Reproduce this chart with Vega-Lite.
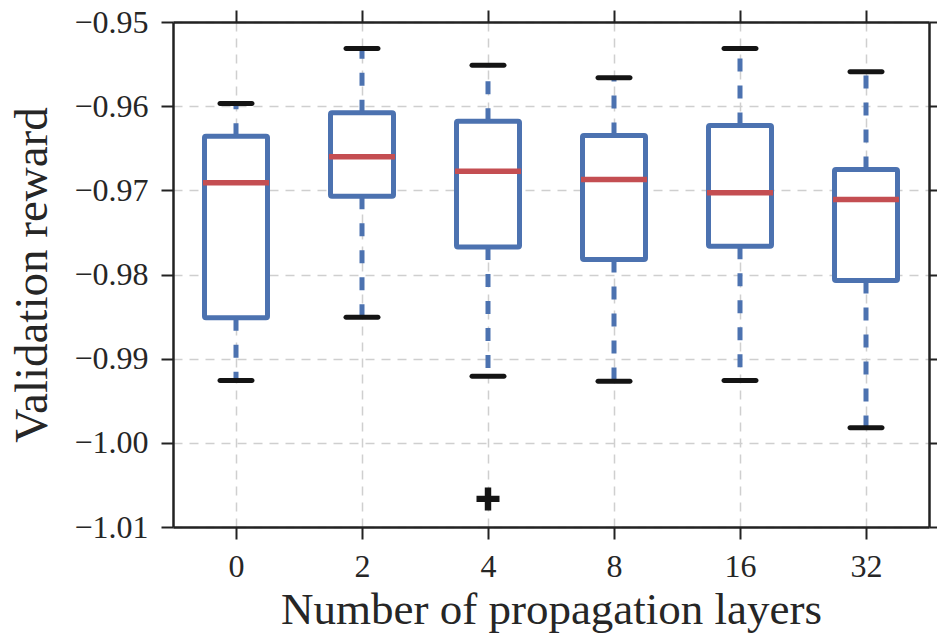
{
  "$schema": "https://vega.github.io/schema/vega-lite/v6.json",
  "autosize": {"type": "none"},
  "width": 756,
  "height": 505,
  "padding": {"left": 173, "top": 22, "right": 8, "bottom": 106},
  "background": "white",
  "config": {
    "view": {"stroke": null},
    "axis": {
      "labelFont": "Liberation Serif",
      "titleFont": "Liberation Serif",
      "labelFontSize": 32,
      "titleFontSize": 45,
      "titleFontWeight": "normal",
      "labelColor": "#262626",
      "titleColor": "#262626",
      "domainColor": "#222222",
      "domainWidth": 2.5,
      "tickColor": "#222222",
      "tickWidth": 2,
      "tickSize": 12,
      "gridColor": "#cfcfcf",
      "gridDash": [9, 7],
      "gridWidth": 1.5
    }
  },
  "datasets": {
    "boxes": [
      {"layers": "0", "lo": -0.9926, "q1": -0.98515, "med": -0.96911, "q3": -0.96357, "hi": -0.95969},
      {"layers": "2", "lo": -0.98508, "q1": -0.9707, "med": -0.96602, "q3": -0.96079, "hi": -0.95315},
      {"layers": "4", "lo": -0.99209, "q1": -0.97672, "med": -0.96773, "q3": -0.96179, "hi": -0.95513},
      {"layers": "8", "lo": -0.99269, "q1": -0.97822, "med": -0.96872, "q3": -0.96349, "hi": -0.95663},
      {"layers": "16", "lo": -0.9926, "q1": -0.97664, "med": -0.9703, "q3": -0.9623, "hi": -0.95315},
      {"layers": "32", "lo": -0.99822, "q1": -0.98072, "med": -0.97109, "q3": -0.96753, "hi": -0.95592}
    ],
    "outliers": [
      {"layers": "4", "value": -1.00666}
    ]
  },
  "resolve": {"axis": {"x": "independent", "y": "independent"}},
  "layer": [
    {
      "data": {"name": "boxes"},
      "mark": {"type": "rule", "color": "#4c72b0", "strokeWidth": 5, "strokeDash": [13, 14]},
      "encoding": {
        "x": {
          "field": "layers", "type": "ordinal", "sort": ["0", "2", "4", "8", "16", "32"],
          "scale": {"type": "point", "padding": 0.5},
          "axis": {"orient": "bottom", "title": "Number of propagation layers", "labelAngle": 0, "labelPadding": 12, "titlePadding": 5, "grid": true}
        },
        "y": {
          "field": "q1", "type": "quantitative",
          "scale": {"domain": [-1.01, -0.95], "nice": false, "zero": false},
          "axis": {"orient": "left", "title": "Validation reward", "titleFontSize": 47, "values": [-0.95, -0.96, -0.97, -0.98, -0.99, -1.0, -1.01], "format": ".2f", "labelPadding": 13, "titlePadding": 17, "grid": true}
        },
        "y2": {"field": "lo"}
      }
    },
    {
      "data": {"name": "boxes"},
      "mark": {"type": "rule", "color": "#4c72b0", "strokeWidth": 5, "strokeDash": [13, 14]},
      "encoding": {
        "x": {"field": "layers", "type": "ordinal", "sort": ["0", "2", "4", "8", "16", "32"], "axis": null},
        "y": {"field": "q3", "type": "quantitative", "axis": null},
        "y2": {"field": "hi"}
      }
    },
    {
      "data": {"name": "boxes"},
      "mark": {"type": "bar", "fill": "white", "stroke": "#4c72b0", "strokeWidth": 5, "size": 63, "cornerRadius": 1.5},
      "encoding": {
        "x": {"field": "layers", "type": "ordinal", "sort": ["0", "2", "4", "8", "16", "32"], "axis": null},
        "y": {"field": "q1", "type": "quantitative", "axis": null},
        "y2": {"field": "q3"}
      }
    },
    {
      "data": {"name": "boxes"},
      "mark": {"type": "tick", "color": "#c44e52", "size": 66, "thickness": 5.5, "opacity": 1},
      "encoding": {
        "x": {"field": "layers", "type": "ordinal", "sort": ["0", "2", "4", "8", "16", "32"], "axis": null},
        "y": {"field": "med", "type": "quantitative", "axis": null}
      }
    },
    {
      "data": {"name": "boxes"},
      "mark": {"type": "tick", "color": "#141414", "size": 37, "thickness": 5, "opacity": 1, "cornerRadius": 2.5},
      "encoding": {
        "x": {"field": "layers", "type": "ordinal", "sort": ["0", "2", "4", "8", "16", "32"], "axis": null},
        "y": {"field": "lo", "type": "quantitative", "axis": null}
      }
    },
    {
      "data": {"name": "boxes"},
      "mark": {"type": "tick", "color": "#141414", "size": 37, "thickness": 5, "opacity": 1, "cornerRadius": 2.5},
      "encoding": {
        "x": {
          "field": "layers", "type": "ordinal", "sort": ["0", "2", "4", "8", "16", "32"],
          "axis": {"orient": "top", "labels": false, "title": null, "grid": false}
        },
        "y": {
          "field": "hi", "type": "quantitative",
          "axis": {"orient": "right", "labels": false, "title": null, "grid": false, "values": [-0.95, -0.96, -0.97, -0.98, -0.99, -1.0, -1.01]}
        }
      }
    },
    {
      "data": {"name": "outliers"},
      "mark": {"type": "point", "shape": "M-0.28,-1H0.28V-0.28H1V0.28H0.28V1H-0.28V0.28H-1V-0.28H-0.28Z", "filled": true, "color": "#141414", "opacity": 1, "size": 529, "strokeWidth": 0},
      "encoding": {
        "x": {"field": "layers", "type": "ordinal", "sort": ["0", "2", "4", "8", "16", "32"], "axis": null},
        "y": {"field": "value", "type": "quantitative", "axis": null}
      }
    }
  ]
}
